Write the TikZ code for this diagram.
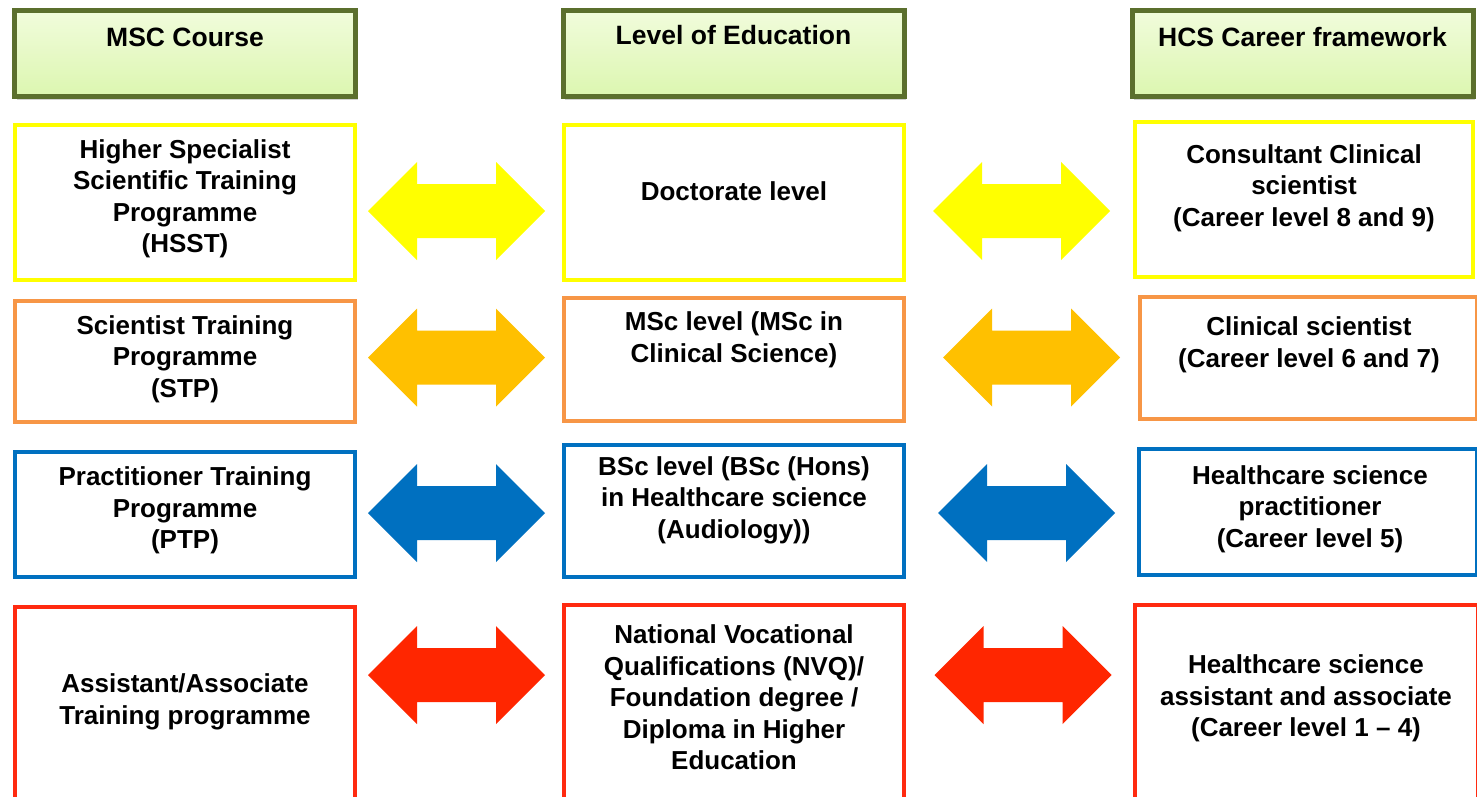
\documentclass[tikz,border=0pt]{standalone}
\usepackage{fontspec}
\setmainfont{Liberation Sans}
\usetikzlibrary{shadows}

\definecolor{hdrline}{HTML}{5B6F2D}
\definecolor{hdrtop}{HTML}{F1FCDC}
\definecolor{hdrbot}{HTML}{DCF6B0}
\definecolor{cyel}{HTML}{FFFF00}
\definecolor{corgline}{HTML}{F79646}
\definecolor{corgarr}{HTML}{FFC000}
\definecolor{cblue}{HTML}{0070C0}
\definecolor{credline}{HTML}{FF2A10}
\definecolor{credarr}{HTML}{FF2600}

\tikzset{
  hdrbox/.style={draw=hdrline, line width=5pt, top color=hdrtop, bottom color=hdrbot,
    minimum width=341pt, minimum height=86pt, inner sep=0pt,
    drop shadow={opacity=0.35, shadow xshift=2pt, shadow yshift=-4pt}},
  cellbox/.style={draw=#1, line width=4pt, fill=white, inner sep=0pt},
  lbl/.style={align=center, inner sep=0pt, font=\bfseries\fontsize{26}{31.5}\selectfont},
  hdrlbl/.style={inner sep=0pt, font=\bfseries\fontsize{26.5}{30}\selectfont},
}

% double-headed block arrow centred on a named coordinate
\newcommand{\dblarrow}[4]{%
  \coordinate (#1) at (#2,#3);
  \fill[#4] ([shift={(-88.5,0)}]#1) -- ([shift={(-39.5,-49)}]#1) -- ([shift={(-39.5,-27)}]#1)
    -- ([shift={(39.5,-27)}]#1) -- ([shift={(39.5,-49)}]#1) -- ([shift={(88.5,0)}]#1)
    -- ([shift={(39.5,49)}]#1) -- ([shift={(39.5,27)}]#1) -- ([shift={(-39.5,27)}]#1)
    -- ([shift={(-39.5,49)}]#1) -- cycle;}

\begin{document}
\begin{tikzpicture}[x=1pt,y=-1pt]
\useasboundingbox (0,0) rectangle (1477,796);
\fill[white] (0,0) rectangle (1477,796);

% column headers
\node[hdrbox] (h1) at (185,53) {};
\node[hdrbox] (h2) at (733.5,53) {};
\node[hdrbox] (h3) at (1302.5,53) {};
\node[hdrlbl] (h1t) at (185,37) {MSC Course};
\node[hdrlbl] (h2t) at (733.5,35) {Level of Education};
\node[hdrlbl] (h3t) at (1302.5,37) {HCS Career framework};

% row 1: doctorate level
\node[cellbox=cyel, minimum width=340pt, minimum height=155pt] (a1) at (185,202.5) {};
\node[cellbox=cyel, minimum width=340pt, minimum height=155pt] (b1) at (734,202.5) {};
\node[cellbox=cyel, minimum width=338pt, minimum height=155pt] (c1) at (1304,199.5) {};
\node[lbl] (a1t) at (185,199) {Higher Specialist\\Scientific Training\\Programme\\(HSST)};
\node[lbl] (b1t) at (734,191) {Doctorate level};
\node[lbl] (c1t) at (1304,188) {Consultant Clinical\\scientist\\(Career level 8 and 9)};

% row 2: MSc level
\node[cellbox=corgline, minimum width=340pt, minimum height=121pt] (a2) at (185,361.5) {};
\node[cellbox=corgline, minimum width=340pt, minimum height=123pt] (b2) at (734,359.5) {};
\node[cellbox=corgline, minimum width=337pt, minimum height=122pt] (c2) at (1308.5,358) {};
\node[lbl] (a2t) at (185,359) {Scientist Training\\Programme\\(STP)};
\node[lbl] (b2t) at (734,340) {MSc level (MSc in\\Clinical Science)};
\node[lbl] (c2t) at (1309,345) {Clinical scientist\\(Career level 6 and 7)};

% row 3: BSc level
\node[cellbox=cblue, minimum width=340pt, minimum height=125pt] (a3) at (185,514.5) {};
\node[cellbox=cblue, minimum width=340pt, minimum height=132pt] (b3) at (734,511) {};
\node[cellbox=cblue, minimum width=338pt, minimum height=126pt] (c3) at (1308,512) {};
\node[lbl] (a3t) at (185,510.5) {Practitioner Training\\Programme\\(PTP)};
\node[lbl] (b3t) at (734,500) {BSc level (BSc (Hons)\\in Healthcare science\\(Audiology))};
\node[lbl] (c3t) at (1310,509) {Healthcare science\\practitioner\\(Career level 5)};

% row 4: vocational level
\node[cellbox=credline, minimum width=340pt, minimum height=195pt] (a4) at (185,704.5) {};
\node[cellbox=credline, minimum width=340pt, minimum height=197pt] (b4) at (734,703.5) {};
\node[cellbox=credline, minimum width=343pt, minimum height=197pt] (c4) at (1306.5,703.5) {};
\node[lbl] (a4t) at (185,702) {Assistant/Associate\\Training programme};
\node[lbl] (b4t) at (734,697.5) {National Vocational\\Qualifications (NVQ)/\\Foundation degree /\\Diploma in Higher\\Education};
\node[lbl] (c4t) at (1306,698.5) {Healthcare science\\assistant and associate\\(Career level 1 -- 4)};

% linking arrows
\dblarrow{ar1l}{456.5}{211}{cyel}
\dblarrow{ar1r}{1021.5}{211}{cyel}
\dblarrow{ar2l}{456.5}{357.5}{corgarr}
\dblarrow{ar2r}{1031.5}{357.5}{corgarr}
\dblarrow{ar3l}{456.5}{513}{cblue}
\dblarrow{ar3r}{1026.5}{513}{cblue}
\dblarrow{ar4l}{456.5}{675}{credarr}
\dblarrow{ar4r}{1023}{675}{credarr}
\end{tikzpicture}
\end{document}
